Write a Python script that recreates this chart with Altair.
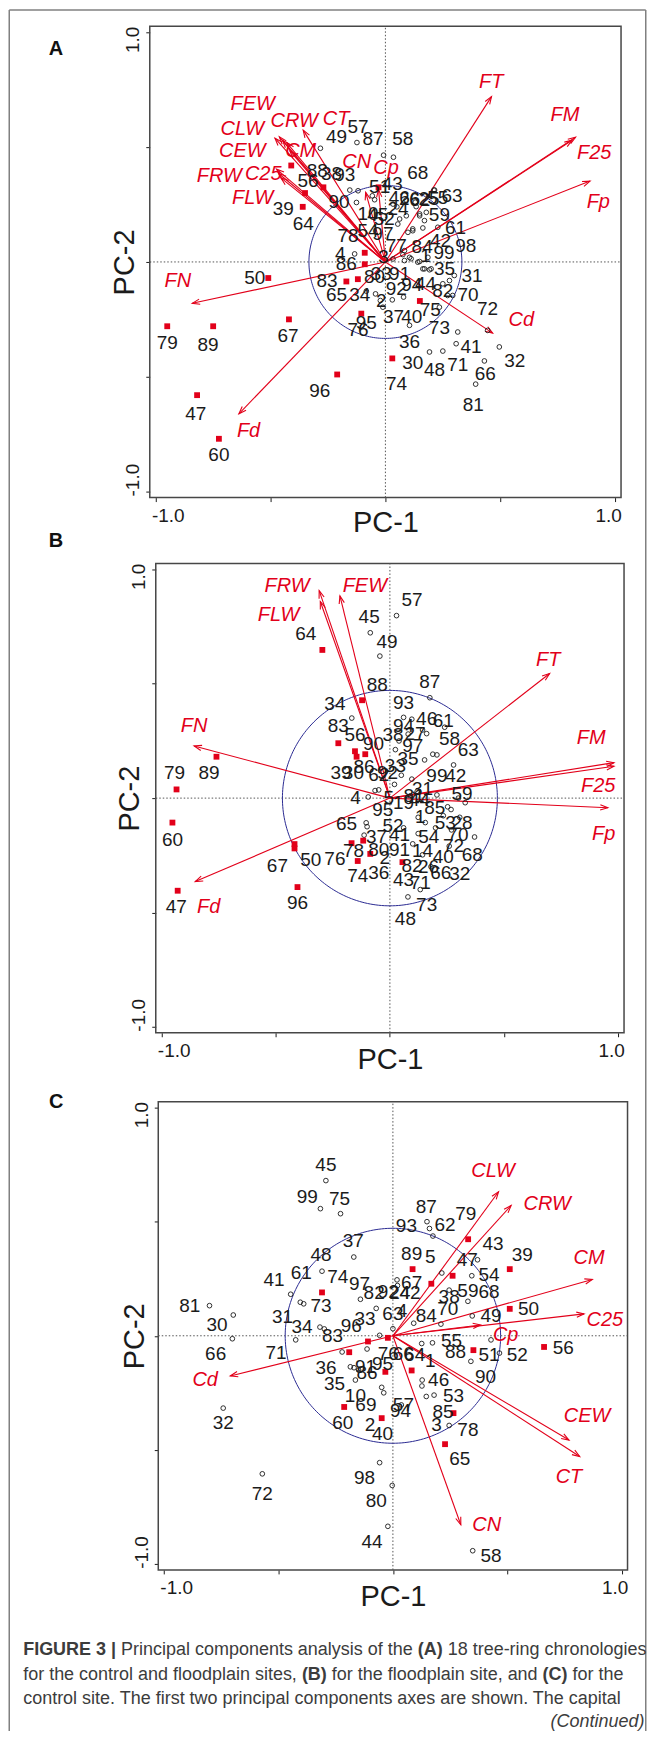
import numpy as np
import pandas as pd
import altair as alt

# ------------------------------------------------------------------
# Values (PCA biplots, data units)
# ------------------------------------------------------------------
TICKS = [-1.0, -0.5, 0.0, 0.5, 1.0]

# ---------------- Panel A ----------------
A_RADIUS = 0.333
A_VARS = ["FT", "FM", "F25", "Fp", "Cd", "FN", "Fd", "CT", "CRW", "FEW", "CLW", "CEW", "CM", "C25", "FRW", "FLW", "CN", "Cp"]
A_TIP_X = [0.462, 0.828, 0.813, 0.891, 0.467, -0.841, -0.638, -0.358, -0.430, -0.462, -0.481, -0.448, -0.416, -0.474, -0.465, -0.455, -0.086, -0.030]
A_TIP_Y = [0.720, 0.543, 0.530, 0.352, -0.310, -0.180, -0.661, 0.574, 0.520, 0.545, 0.539, 0.530, 0.484, 0.404, 0.385, 0.366, 0.303, 0.315]
A_LAB_X = [0.461, 0.782, 0.909, 0.927, 0.592, -0.904, -0.596, -0.215, -0.397, -0.578, -0.623, -0.623, -0.369, -0.532, -0.723, -0.578, -0.125, 0.003]
A_LAB_Y = [0.782, 0.642, 0.476, 0.259, -0.253, -0.082, -0.734, 0.623, 0.612, 0.688, 0.580, 0.481, 0.484, 0.383, 0.375, 0.277, 0.434, 0.409]

A_SQ_X = [-0.95, -0.75, -0.42, -0.51, -0.82, -0.725, -0.21, 0.03, -0.41, -0.35, -0.36, -0.27, -0.09, -0.09, -0.17, -0.12, -0.105, -0.03, 0.15]
A_SQ_Y = [-0.28, -0.28, -0.25, -0.07, -0.58, -0.77, -0.49, -0.42, 0.42, 0.30, 0.24, 0.325, 0.04, -0.01, -0.085, -0.075, -0.225, 0.325, -0.17]

A_CI_X = [-0.124, -0.283, -0.008, 0.035, -0.155, -0.119, -0.057, -0.047, -0.126, 0.033,
          0.062, 0.091, 0.149, 0.178, 0.214, 0.119, 0.163, 0.228, -0.134, 0.076,
          0.105, 0.141, 0.185, 0.163, 0.199, 0.033, -0.083, -0.043, -0.022, -0.011,
          0.030, 0.079, 0.315, 0.235, 0.250, 0.293, 0.271, 0.279, 0.300, 0.170,
          0.192, 0.083, 0.112, 0.149, 0.083, 0.119, 0.098, 0.170, 0.149, 0.134,
          0.054, 0.308, 0.496, 0.192, 0.250, 0.431, 0.105, 0.393, 0.445, 0.211,
          0.050, 0.090, 0.130]
A_CI_Y = [0.520, 0.495, 0.465, 0.456, 0.313, 0.310, 0.288, 0.271, 0.259, 0.252,
          0.187, 0.201, 0.201, 0.216, 0.313, 0.144, 0.148, 0.151, 0.035, 0.032,
          0.020, -0.001, 0.020, -0.030, -0.030, 0.013, -0.127, -0.139, -0.168, -0.197,
          -0.165, -0.153, -0.305, -0.197, -0.095, -0.146, -0.146, -0.081, -0.059, -0.030,
          -0.034, 0.006, 0.014, 0.002, 0.049, 0.136, 0.129, 0.180, 0.209, 0.241,
          0.165, -0.356, -0.370, -0.392, -0.388, -0.431, -0.276, -0.532, -0.298, 0.313,
          0.240, 0.270, 0.260]

A_NUM = ["79", "89", "67", "50", "47", "60", "96", "74", "57", "49", "87", "58", "68", "63",
         "88", "38", "93", "56", "39", "64", "90", "78", "4", "86", "83", "65", "34", "80", "95", "76",
         "51", "43", "10", "45", "52", "54", "97", "77", "3", "84", "42", "99", "1", "98", "35", "59",
         "61", "31", "70", "82", "44", "94", "92", "2", "33", "91", "37", "40", "75", "73", "36", "41",
         "32", "30", "48", "71", "66", "81", "72", "46", "26", "62", "25", "55", "24"]
A_NUM_X = [-0.950, -0.772, -0.424, -0.569, -0.826, -0.725, -0.286, 0.048, -0.119, -0.213, -0.054, 0.076, 0.141, 0.290,
           -0.297, -0.235, -0.177, -0.337, -0.445, -0.358, -0.202, -0.163, -0.196, -0.170, -0.254, -0.213, -0.112, -0.047, -0.083, -0.119,
           -0.025, 0.030, -0.076, -0.033, -0.005, -0.076, -0.011, 0.047, -0.008, 0.160, 0.240, 0.255, 0.175, 0.350, 0.257, 0.235,
           0.305, 0.377, 0.360, 0.250, 0.175, 0.115, 0.047, -0.018, -0.018, 0.062, 0.035, 0.115, 0.195, 0.235, 0.105, 0.373,
           0.563, 0.119, 0.214, 0.315, 0.435, 0.383, 0.445, 0.060, 0.105, 0.150, 0.190, 0.228, 0.055]
A_NUM_Y = [-0.354, -0.361, -0.323, -0.070, -0.664, -0.842, -0.560, -0.532, 0.588, 0.545, 0.535, 0.535, 0.389, 0.285,
           0.397, 0.383, 0.380, 0.353, 0.231, 0.165, 0.259, 0.115, 0.035, -0.009, -0.085, -0.146, -0.146, -0.066, -0.266, -0.298,
           0.327, 0.339, 0.209, 0.205, 0.185, 0.136, 0.122, 0.071, 0.023, 0.064, 0.093, 0.040, 0.028, 0.068, -0.030, 0.205,
           0.148, -0.060, -0.143, -0.125, -0.095, -0.100, -0.119, -0.168, -0.052, -0.052, -0.240, -0.240, -0.210, -0.287, -0.349, -0.370,
           -0.430, -0.442, -0.472, -0.450, -0.490, -0.625, -0.204, 0.280, 0.275, 0.270, 0.275, 0.280, 0.230]

# ---------------- Panel B ----------------
B_RADIUS = 0.471
B_VARS = ["FRW", "FLW", "FEW", "FT", "FM", "F25", "Fp", "FN", "Fd"]
B_TIP_X = [-0.310, -0.305, -0.219, 0.700, 0.982, 0.982, 0.955, -0.858, -0.853]
B_TIP_Y = [0.907, 0.860, 0.884, 0.545, 0.155, 0.139, -0.042, 0.228, -0.365]
B_LAB_X = [-0.451, -0.488, -0.110, 0.694, 0.882, 0.913, 0.937, -0.858, -0.794]
B_LAB_Y = [0.927, 0.801, 0.927, 0.603, 0.262, 0.053, -0.157, 0.314, -0.475]

B_SQ_X = [-0.296, -0.122, -0.760, -0.935, -0.953, -0.930, -0.418, -0.418, -0.405, -0.226, -0.153, -0.146, -0.108, -0.168, -0.117, -0.141, -0.086, 0.055]
B_SQ_Y = [0.648, 0.428, 0.181, 0.038, -0.107, -0.405, -0.201, -0.220, -0.389, 0.240, 0.205, 0.181, 0.192, -0.197, -0.186, -0.275, -0.244, -0.280]

B_CI_X = [0.029, -0.086, -0.044, 0.175, -0.167, 0.024, 0.060, 0.096, 0.143, 0.161,
          0.206, 0.188, 0.152, 0.279, 0.096, -0.049, -0.065, -0.095, 0.206, 0.253,
          0.124, 0.234, 0.306, -0.104, -0.113, 0.124, 0.371, 0.143, 0.270, 0.133,
          0.079, 0.020, 0.050, 0.090, 0.120, 0.300, 0.330, 0.240, 0.040, 0.080,
          0.100, 0.060, 0.200, 0.260, 0.180, 0.155, 0.268, -0.100]
B_CI_Y = [0.798, 0.723, 0.621, 0.439, 0.350, 0.212, 0.353, 0.345, 0.298, 0.282,
          0.189, 0.192, 0.167, 0.145, 0.083, 0.036, 0.033, 0.005, 0.014, -0.038,
          -0.084, -0.077, -0.084, -0.108, -0.162, -0.155, -0.170, -0.248, -0.139, -0.400,
          -0.432, 0.060, 0.100, 0.010, 0.030, 0.000, -0.020, 0.310, 0.250, 0.280,
          -0.200, -0.130, -0.130, -0.210, -0.300, -0.107, -0.050, -0.125]

B_NUM = ["57", "45", "49", "64", "88", "87", "34", "93", "46", "61", "83", "94", "56", "38", "27", "58", "90", "97", "63", "35",
         "33", "89", "79", "39", "30", "86", "62", "92", "99", "42", "4", "5", "81", "31", "19", "44", "59", "95", "85", "65",
         "52", "1", "53", "28", "37", "41", "54", "70", "72", "68", "78", "76", "50", "67", "80", "91", "2", "14", "40", "82",
         "26", "66", "32", "74", "36", "43", "71", "73", "48", "60", "47", "96"]
B_NUM_X = [0.097, -0.091, -0.013, -0.369, -0.055, 0.175, -0.241, 0.060, 0.161, 0.234, -0.226, 0.060, -0.153, 0.014, 0.110, 0.261, -0.072, 0.100, 0.343, 0.079,
           0.024, -0.793, -0.944, -0.214, -0.160, -0.113, -0.049, -0.010, 0.206, 0.289, -0.151, -0.005, 0.106, 0.143, 0.060, 0.130, 0.316, -0.031, 0.197, -0.190,
           0.014, 0.133, 0.243, 0.316, -0.059, 0.042, 0.170, 0.298, 0.279, 0.361, -0.159, -0.241, -0.347, -0.493, -0.049, 0.042, -0.022, 0.143, 0.234, 0.097,
           0.169, 0.223, 0.306, -0.141, -0.049, 0.060, 0.133, 0.161, 0.068, -0.953, -0.936, -0.405]
B_NUM_Y = [0.868, 0.790, 0.681, 0.717, 0.494, 0.509, 0.410, 0.415, 0.345, 0.337, 0.314, 0.314, 0.275, 0.275, 0.280, 0.259, 0.236, 0.230, 0.212, 0.170,
           0.142, 0.108, 0.111, 0.111, 0.110, 0.134, 0.103, 0.110, 0.095, 0.095, 0.002, 0.000, 0.009, 0.041, -0.020, -0.010, 0.017, -0.053, -0.045, -0.115,
           -0.123, -0.084, -0.107, -0.107, -0.170, -0.162, -0.170, -0.162, -0.209, -0.248, -0.233, -0.267, -0.272, -0.295, -0.225, -0.225, -0.264, -0.233, -0.256, -0.295,
           -0.303, -0.327, -0.334, -0.342, -0.326, -0.358, -0.373, -0.467, -0.529, -0.183, -0.475, -0.459]

# ---------------- Panel C ----------------
C_RADIUS = 0.471
C_VARS = ["CLW", "CRW", "CM", "C25", "Cp", "CEW", "CT", "CN", "Cd"]
C_TIP_X = [0.462, 0.517, 0.872, 0.836, 0.383, 0.770, 0.817, 0.297, -0.711]
C_TIP_Y = [0.631, 0.571, 0.247, 0.096, 0.047, -0.457, -0.529, -0.828, -0.176]
C_LAB_X = [0.438, 0.675, 0.858, 0.927, 0.493, 0.849, 0.770, 0.410, -0.821]
C_LAB_Y = [0.722, 0.577, 0.341, 0.069, 0.002, -0.353, -0.620, -0.828, -0.194]

C_SQ_X = [0.329, 0.086, 0.261, 0.168, 0.511, 0.511, -0.310, 0.661, 0.352, -0.022, -0.109, -0.191, 0.082, -0.033, -0.213, -0.049, 0.265, 0.228]
C_SQ_Y = [0.423, 0.292, 0.263, 0.228, 0.292, 0.118, 0.190, -0.049, -0.063, -0.009, -0.025, -0.072, -0.152, -0.158, -0.312, -0.361, -0.339, -0.475]

C_CI_X = [-0.802, -0.698, -0.702, -0.742, -0.571, -0.293, -0.317, -0.229, -0.171, -0.310,
          -0.447, -0.405, -0.390, -0.425, -0.319, -0.300, -0.222, -0.186, -0.164, -0.113,
          -0.142, -0.073, -0.058, 0.000, 0.018, 0.020, 0.149, 0.175, 0.160, 0.214,
          0.246, 0.345, 0.370, 0.328, 0.347, 0.210, 0.091, 0.126, 0.173, 0.341,
          0.429, 0.466, 0.128, 0.127, 0.146, 0.180, 0.246, 0.037, -0.049, -0.040,
          -0.058, -0.003, -0.022, 0.349, -0.170, -0.150]
C_CI_Y = [0.132, 0.091, -0.013, -0.317, -0.605, 0.680, 0.557, 0.535, 0.345, 0.283,
          0.182, 0.147, 0.140, -0.018, 0.038, 0.030, -0.071, -0.136, -0.194, -0.058,
          0.160, 0.120, 0.002, 0.031, 0.245, 0.220, 0.500, 0.437, 0.470, 0.275,
          0.200, 0.263, 0.333, 0.151, 0.087, 0.051, 0.055, -0.034, -0.031, -0.112,
          -0.018, -0.076, -0.194, -0.220, -0.266, -0.260, -0.393, -0.303, -0.226, -0.250,
          -0.556, -0.656, -0.835, -0.942, -0.140, -0.150]

C_NUM = ["45", "99", "75", "87", "79", "93", "62", "37", "43", "39", "48", "89", "5", "47", "54", "41", "61", "74", "97", "82",
         "92", "24", "42", "67", "59", "68", "38", "81", "73", "63", "4", "70", "84", "49", "50", "31", "34", "96", "33", "83",
         "30", "66", "71", "56", "52", "51", "55", "88", "76", "66", "64", "1", "90", "36", "86", "91", "95", "46", "35", "53",
         "10", "69", "57", "94", "85", "3", "78", "60", "2", "40", "65", "98", "80", "72", "32", "44", "58"]
C_NUM_X = [-0.293, -0.374, -0.233, 0.146, 0.319, 0.059, 0.228, -0.173, 0.438, 0.566, -0.314, 0.082, 0.164, 0.325, 0.420, -0.520, -0.401, -0.241, -0.146, -0.082,
           -0.020, 0.030, 0.075, 0.082, 0.328, 0.420, 0.246, -0.888, -0.314, 0.000, 0.040, 0.240, 0.146, 0.429, 0.593, -0.483, -0.397, -0.182, -0.122, -0.264,
           -0.769, -0.775, -0.511, 0.745, 0.544, 0.420, 0.256, 0.274, -0.020, 0.045, 0.095, 0.164, 0.405, -0.292, -0.113, -0.120, -0.045, 0.200, -0.255, 0.265,
           -0.164, -0.118, 0.046, 0.033, 0.219, 0.191, 0.328, -0.219, -0.100, -0.045, 0.292, -0.124, -0.073, -0.571, -0.742, -0.091, 0.429]
C_NUM_Y = [0.749, 0.607, 0.600, 0.564, 0.535, 0.480, 0.486, 0.414, 0.401, 0.354, 0.354, 0.359, 0.346, 0.332, 0.268, 0.245, 0.274, 0.259, 0.228, 0.187,
           0.190, 0.187, 0.187, 0.232, 0.196, 0.190, 0.169, 0.132, 0.132, 0.096, 0.110, 0.118, 0.087, 0.087, 0.118, 0.082, 0.038, 0.042, 0.073, -0.003,
           0.045, -0.081, -0.076, -0.052, -0.085, -0.085, -0.021, -0.072, -0.080, -0.080, -0.085, -0.112, -0.179, -0.143, -0.161, -0.135, -0.125, -0.194, -0.212, -0.263,
           -0.266, -0.303, -0.303, -0.330, -0.335, -0.393, -0.411, -0.384, -0.393, -0.429, -0.538, -0.624, -0.725, -0.692, -0.384, -0.904, -0.964]

PANEL_LETTERS = ["A", "B", "C"]
CAPTION_LINES = [
    [("FIGURE 3 |", "bold"), ("Principal components analysis of the", "normal"), ("(A)", "bold"),
     ("18 tree-ring chronologies", "normal")],
    [("for the control and floodplain sites,", "normal"), ("(B)", "bold"), ("for the floodplain site, and", "normal"),
     ("(C)", "bold"), ("for the", "normal")],
    [("control site. The first two principal components axes are shown. The capital", "normal")],
]
CONTINUED = "(Continued)"

# ------------------------------------------------------------------
# Styling / layout
# ------------------------------------------------------------------
FONT = "Liberation Sans"
RED = "#e2001a"
INK = "#1b1b1b"
BLUE = "#2a2a92"
FRAME = "#474747"
BORDER = "#808080"
CAPC = "#3c3c3c"
DOM = 1.026
HEAD = "M -0.35 1 L 0 0 L 0.35 1"
LABEL_EXPR = "datum.value == 1 ? '1.0' : (datum.value == -1 ? '-1.0' : '')"

# page geometry: frame box (FL, FT, FR, FB), plot-area bottom PB, axis-title offsets
PL = 149.5          # common plot-area left edge (page px)
SPACING = 66
GEOM = {
    "A": dict(FL=149.5, FT=25.0, FR=621.5, FB=497.0, PB=497.0, tx=-16.0, ty=33.5),
    "B": dict(FL=155.5, FT=563.0, FR=624.5, FB=1033.0, PB=1036.0, tx=-17.5, ty=35.5),
    "C": dict(FL=158.0, FT=1102.0, FR=628.0, FB=1571.0, PB=1571.0, tx=-14.5, ty=36.0),
}
BX_L, BX_R, BY_T, BY_B, SW = 8.75, 646.25, 8.75, 1732.25, 1.5
LETTER_POS = [(55.5, 47.5), (55.5, 540.0), (55.8, 1102.0)]
CAP_BASELINES = [1656.5, 1681.0, 1705.5]
CAP_X0 = 22.7
CONT_POS = (645.0, 1728.5)

# Arial/Liberation advance widths (1/1000 em) for caption placement
W_REG = {' ': 278, '.': 278, ',': 278, '-': 333, '|': 260, '(': 333, ')': 333,
         'a': 556, 'b': 556, 'c': 500, 'd': 556, 'e': 556, 'f': 278, 'g': 556, 'h': 556, 'i': 222, 'j': 222,
         'k': 500, 'l': 222, 'm': 833, 'n': 556, 'o': 556, 'p': 556, 'q': 556, 'r': 333, 's': 500, 't': 278,
         'u': 556, 'v': 500, 'w': 722, 'x': 500, 'y': 500, 'z': 500, 'P': 667, 'T': 611, 'A': 667, 'B': 667, 'C': 722}
W_BOLD = {' ': 278, '|': 280, '(': 333, ')': 333, 'F': 611, 'I': 278, 'G': 778, 'U': 722, 'R': 722, 'E': 667,
          'A': 722, 'B': 722, 'C': 722}
CAP_SIZE = 18


def text_width(s, weight):
    table = W_BOLD if weight == "bold" else W_REG
    return sum(table.get(ch, 556) for ch in s) / 1000.0 * CAP_SIZE


ONE = pd.DataFrame({"k": [0]})


def panel(key, radius, vars_, tx, ty, lx, ly, sqx, sqy, cix, ciy, num, numx, numy, decorate=False):
    g = GEOM[key]
    FL, FT, FR, FB, PB = g["FL"], g["FT"], g["FR"], g["FB"], g["PB"]
    W, H = FR - PL, PB - FT
    ux = (FR - FL) / (2 * DOM)
    uy = (FB - FT) / (2 * DOM)
    xdom = [-DOM - (FL - PL) / ux, DOM]
    ydom = [-DOM - (PB - FB) / uy, DOM]

    common = dict(values=TICKS, labelExpr=LABEL_EXPR, tickSize=4, tickWidth=1, tickColor=INK, domain=False,
                  grid=False, labelFont=FONT, labelFontSize=19, labelColor=INK, labelFlush=False,
                  labelOverlap=False, titleFont=FONT, titleFontSize=29, titleFontWeight="normal",
                  titleColor=INK, titleBaseline="alphabetic", titleAlign="center")
    ax = alt.Axis(title="PC-1", labelPadding=5, offset=-(PB - FB), titleX=(FL + FR) / 2 - PL, titleY=g["ty"],
                  labelOffset={"condition": {"test": "datum.value < 0", "value": 12}, "value": -7}, **common)
    ay = alt.Axis(title="PC-2", labelPadding=7, labelAngle=270, labelAlign="center", labelBaseline="alphabetic",
                  offset=-(FL - PL), titleAngle=270, titleX=g["tx"], titleY=(FB - FT) / 2,
                  labelOffset={"condition": {"test": "datum.value < 0", "value": -12}, "value": 7}, **common)

    def X(f):
        return alt.X(f"{f}:Q", scale=alt.Scale(domain=xdom, nice=False, zero=False), axis=ax)

    def Y(f):
        return alt.Y(f"{f}:Q", scale=alt.Scale(domain=ydom, nice=False, zero=False), axis=ay)

    box = pd.DataFrame({"a": [-DOM], "b": [DOM], "z": [0.0]})
    layers = []
    # frame
    layers.append(alt.Chart(box).mark_rect(fillOpacity=0, stroke=FRAME, strokeWidth=1.5).encode(
        x=X("a"), x2="b:Q", y=Y("a"), y2="b:Q"))
    # dotted zero lines
    layers.append(alt.Chart(box).mark_rule(color="#555555", strokeDash=[1.5, 2], strokeWidth=1).encode(
        x=X("z"), y=Y("a"), y2="b:Q"))
    layers.append(alt.Chart(box).mark_rule(color="#555555", strokeDash=[1.5, 2], strokeWidth=1).encode(
        y=Y("z"), x=X("a"), x2="b:Q"))

    t = np.linspace(0, 2 * np.pi, 241)
    circ = pd.DataFrame({"x": radius * np.cos(t), "y": radius * np.sin(t), "i": np.arange(len(t))})
    layers.append(alt.Chart(circ).mark_line(color=BLUE, strokeWidth=1).encode(x=X("x"), y=Y("y"), order="i:Q"))

    arr = pd.DataFrame({"v": vars_, "x": tx, "y": ty, "lx": lx, "ly": ly})
    arr["x0"] = 0.0
    arr["y0"] = 0.0
    arr["ang"] = (np.degrees(np.arctan2(arr["x"] * ux, arr["y"] * uy)) + 360.0) % 360.0
    layers.append(alt.Chart(arr).mark_rule(color=RED, strokeWidth=1.1).encode(
        x=X("x0"), y=Y("y0"), x2="x:Q", y2="y:Q"))
    layers.append(alt.Chart(arr).mark_point(shape=HEAD, size=230, filled=False, color=RED, strokeWidth=1.1,
                                            opacity=1).encode(x=X("x"), y=Y("y"),
                                                              angle=alt.Angle("ang:Q", scale=None)))

    ci = pd.DataFrame({"x": cix, "y": ciy})
    layers.append(alt.Chart(ci).mark_point(shape="circle", size=22, filled=False, color=INK, strokeWidth=0.9,
                                           opacity=1).encode(x=X("x"), y=Y("y")))
    sq = pd.DataFrame({"x": sqx, "y": sqy})
    layers.append(alt.Chart(sq).mark_square(size=34, color=RED, opacity=1).encode(x=X("x"), y=Y("y")))

    nm = pd.DataFrame({"t": num, "x": numx, "y": numy})
    layers.append(alt.Chart(nm).mark_text(font=FONT, fontSize=19, color=INK).encode(
        x=X("x"), y=Y("y"), text="t:N"))
    layers.append(alt.Chart(arr).mark_text(font=FONT, fontSize=20, fontStyle="italic", color=RED).encode(
        x=X("lx"), y=Y("ly"), text="v:N"))

    if decorate:
        # page-level decoration, positioned relative to this view's origin
        def prule(x1, y1, x2, y2):
            return alt.Chart(ONE).mark_rule(color=BORDER, strokeWidth=SW).encode(
                x=alt.value(x1 - PL), y=alt.value(y1 - FT), x2=alt.value(x2 - PL), y2=alt.value(y2 - FT))

        def ptext(txt, x, y, size, weight="normal", style="normal", align="left", baseline="alphabetic",
                  color=INK):
            return alt.Chart(ONE).mark_text(text=txt, font=FONT, fontSize=size, fontWeight=weight,
                                            fontStyle=style, align=align, baseline=baseline,
                                            color=color).encode(x=alt.value(x - PL), y=alt.value(y - FT))

        layers.append(prule(BX_L, BY_T, BX_R, BY_T))
        layers.append(prule(BX_L, BY_T, BX_L, BY_B))
        layers.append(prule(BX_R, BY_T, BX_R, BY_B))
        for letter, (px, py) in zip(PANEL_LETTERS, LETTER_POS):
            layers.append(ptext(letter, px, py, 20, weight="bold", align="center", baseline="middle",
                                color="#111111"))
        for line, yb in zip(CAPTION_LINES, CAP_BASELINES):
            xc = CAP_X0
            for seg, wt in line:
                layers.append(ptext(seg, xc, yb, CAP_SIZE, weight=wt, color=CAPC))
                xc += text_width(seg, wt) + text_width(" ", "normal")
        layers.append(ptext(CONTINUED, CONT_POS[0], CONT_POS[1], CAP_SIZE, style="italic", align="right",
                            color=CAPC))

    return alt.layer(*layers).properties(width=W, height=H)


pA = panel("A", A_RADIUS, A_VARS, A_TIP_X, A_TIP_Y, A_LAB_X, A_LAB_Y, A_SQ_X, A_SQ_Y, A_CI_X, A_CI_Y,
           A_NUM, A_NUM_X, A_NUM_Y, decorate=True)
pB = panel("B", B_RADIUS, B_VARS, B_TIP_X, B_TIP_Y, B_LAB_X, B_LAB_Y, B_SQ_X, B_SQ_Y, B_CI_X, B_CI_Y,
           B_NUM, B_NUM_X, B_NUM_Y)
pC = panel("C", C_RADIUS, C_VARS, C_TIP_X, C_TIP_Y, C_LAB_X, C_LAB_Y, C_SQ_X, C_SQ_Y, C_CI_X, C_CI_Y,
           C_NUM, C_NUM_X, C_NUM_Y)

chart = alt.concat(pA, pB, pC, columns=1, spacing=SPACING, bounds="flush").properties(
    padding=0, background="white"
).configure_view(strokeWidth=0)

chart.save("out.html", embed_options={"renderer": "svg", "actions": False})
